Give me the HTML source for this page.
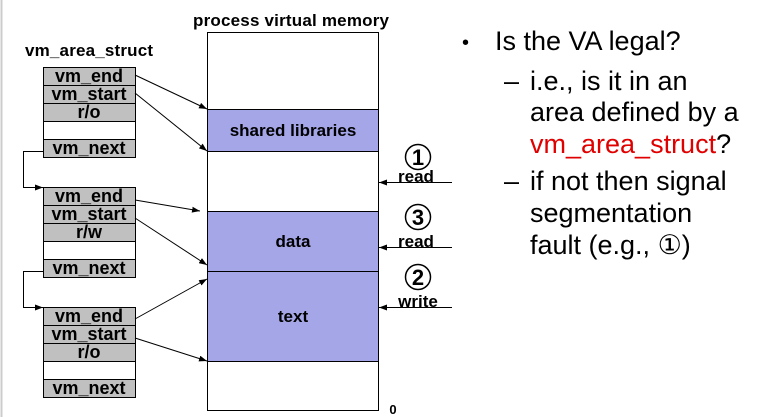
<!DOCTYPE html>
<html><head><style>body{margin:0;background:#fff}svg{display:block}</style></head><body>
<svg width="770" height="417" xmlns="http://www.w3.org/2000/svg" font-family="Liberation Sans, Arial, sans-serif">
<defs><marker id="a" markerWidth="8" markerHeight="6" refX="8" refY="3" orient="auto" markerUnits="userSpaceOnUse"><path d="M0,0 L8,3 L0,6z" fill="#000"/></marker></defs>
<line x1="1.5" y1="0" x2="1.5" y2="417" stroke="#ccc" stroke-width="2"/>
<text x="291" y="26" font-size="17" font-weight="bold" text-anchor="middle" textLength="196">process virtual memory</text>
<text x="89" y="56" font-size="17" font-weight="bold" text-anchor="middle" textLength="128">vm_area_struct</text>
<rect x="207.5" y="32.5" width="171" height="378" fill="#fff" stroke="#000"/>
<rect x="207.5" y="109.5" width="171" height="42" fill="#a4a6e8" stroke="#000"/>
<rect x="207.5" y="211.5" width="171" height="60" fill="#a4a6e8" stroke="#000"/>
<rect x="207.5" y="271.5" width="171" height="90" fill="#a4a6e8" stroke="#000"/>
<g font-size="17" font-weight="bold" text-anchor="middle">
<text x="293" y="136">shared libraries</text>
<text x="293" y="247">data</text>
<text x="293" y="322">text</text>
<text x="393" y="414" font-size="13">0</text>
</g>
<g font-size="18" font-weight="bold" text-anchor="middle">
<g transform="translate(0,67)">
<rect x="43.5" y="0.5" width="92" height="18" fill="#c0c0c0" stroke="#000"/><rect x="43.5" y="18.5" width="92" height="18" fill="#c0c0c0" stroke="#000"/><rect x="43.5" y="36.5" width="92" height="18" fill="#c0c0c0" stroke="#000"/><rect x="43.5" y="54.5" width="92" height="18" fill="#fff" stroke="#000"/><rect x="43.5" y="72.5" width="92" height="18" fill="#c0c0c0" stroke="#000"/>
<text x="89" y="15">vm_end</text><text x="89" y="33">vm_start</text><text x="89" y="51">r/o</text><text x="89" y="87">vm_next</text></g>
<g transform="translate(0,187)">
<rect x="43.5" y="0.5" width="92" height="18" fill="#c0c0c0" stroke="#000"/><rect x="43.5" y="18.5" width="92" height="18" fill="#c0c0c0" stroke="#000"/><rect x="43.5" y="36.5" width="92" height="18" fill="#c0c0c0" stroke="#000"/><rect x="43.5" y="54.5" width="92" height="18" fill="#fff" stroke="#000"/><rect x="43.5" y="72.5" width="92" height="18" fill="#c0c0c0" stroke="#000"/>
<text x="89" y="15">vm_end</text><text x="89" y="33">vm_start</text><text x="89" y="51">r/w</text><text x="89" y="87">vm_next</text></g>
<g transform="translate(0,307)">
<rect x="43.5" y="0.5" width="92" height="18" fill="#c0c0c0" stroke="#000"/><rect x="43.5" y="18.5" width="92" height="18" fill="#c0c0c0" stroke="#000"/><rect x="43.5" y="36.5" width="92" height="18" fill="#c0c0c0" stroke="#000"/><rect x="43.5" y="54.5" width="92" height="18" fill="#fff" stroke="#000"/><rect x="43.5" y="72.5" width="92" height="18" fill="#c0c0c0" stroke="#000"/>
<text x="89" y="15">vm_end</text><text x="89" y="33">vm_start</text><text x="89" y="51">r/o</text><text x="89" y="87">vm_next</text></g>
</g>
<g stroke="#000" stroke-width="1" fill="none" marker-end="url(#a)">
<polyline points="43,151.5 23.5,151.5 23.5,187.5 43,187.5"/>
<polyline points="43,271.5 23.5,271.5 23.5,307.5 43,307.5"/>
<line x1="135" y1="75" x2="207" y2="109"/>
<line x1="135" y1="93" x2="207" y2="151"/>
<line x1="135" y1="200" x2="200" y2="211"/>
<line x1="135" y1="218" x2="207" y2="265"/>
<line x1="135" y1="319" x2="207" y2="279"/>
<line x1="135" y1="338" x2="207" y2="361"/>
<line x1="452" y1="182.5" x2="379" y2="182.5"/>
<line x1="452" y1="247.5" x2="379" y2="247.5"/>
<line x1="452" y1="307.5" x2="379" y2="307.5"/>
</g>
<g font-size="17" font-weight="bold" text-anchor="middle">
<circle cx="418" cy="157" r="12.5" fill="none" stroke="#000" stroke-width="1.5"/><text x="418" y="165" font-size="22">1</text>
<circle cx="418" cy="217" r="12.5" fill="none" stroke="#000" stroke-width="1.5"/><text x="418" y="225" font-size="22">3</text>
<circle cx="418" cy="277" r="12.5" fill="none" stroke="#000" stroke-width="1.5"/><text x="418" y="285" font-size="22">2</text>
<text x="416" y="182">read</text>
<text x="416" y="247">read</text>
<text x="418" y="307">write</text>
</g>
<g font-size="27" fill="#000">
<text x="462" y="49" font-size="20">•</text>
<text x="495" y="50">Is the VA legal?</text>
<text x="504" y="90">–</text>
<text x="530" y="90">i.e., is it in an</text>
<text x="530" y="121">area defined by a</text>
<text x="530" y="153"><tspan fill="#e00000">vm_area_struct</tspan>?</text>
<text x="504" y="190">–</text>
<text x="530" y="190">if not then signal</text>
<text x="530" y="222">segmentation</text>
<text x="530" y="254">fault (e.g., ①)</text>
</g>
</svg>
</body></html>
